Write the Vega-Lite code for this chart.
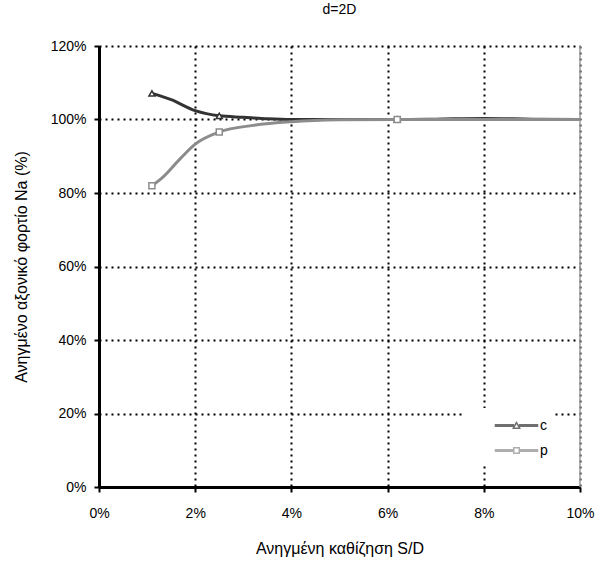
{
  "$schema": "https://vega.github.io/schema/vega-lite/v6.json",
  "width": 481,
  "height": 441,
  "autosize": "none",
  "padding": {"left": 99, "top": 46, "right": 19, "bottom": 75},
  "background": "white",
  "title": {"text": "d=2D", "font": "Liberation Sans", "fontSize": 14, "fontWeight": "normal", "color": "#000", "offset": 22, "anchor": "middle"},
  "config": {
    "view": {"stroke": null},
    "font": "Liberation Sans"
  },
  "datasets": {
    "curves": [
      {"x": 1.1, "y": 107.1, "series": "c", "marker": true},
      {"x": 1.5, "y": 105.4, "series": "c", "marker": false},
      {"x": 2.0, "y": 102.4, "series": "c", "marker": false},
      {"x": 2.5, "y": 101.0, "series": "c", "marker": true},
      {"x": 3.0, "y": 100.6, "series": "c", "marker": false},
      {"x": 3.5, "y": 100.2, "series": "c", "marker": false},
      {"x": 4.0, "y": 100.0, "series": "c", "marker": false},
      {"x": 5.0, "y": 100.0, "series": "c", "marker": false},
      {"x": 6.2, "y": 100.0, "series": "c", "marker": true},
      {"x": 7.0, "y": 100.1, "series": "c", "marker": false},
      {"x": 8.0, "y": 100.3, "series": "c", "marker": false},
      {"x": 9.0, "y": 100.1, "series": "c", "marker": false},
      {"x": 10.0, "y": 100.0, "series": "c", "marker": false},
      {"x": 1.1, "y": 82.0, "series": "p", "marker": true},
      {"x": 1.3, "y": 84.0, "series": "p", "marker": false},
      {"x": 1.7, "y": 89.5, "series": "p", "marker": false},
      {"x": 2.0, "y": 93.3, "series": "p", "marker": false},
      {"x": 2.5, "y": 96.6, "series": "p", "marker": true},
      {"x": 3.2, "y": 98.4, "series": "p", "marker": false},
      {"x": 4.0, "y": 99.4, "series": "p", "marker": false},
      {"x": 5.0, "y": 99.9, "series": "p", "marker": false},
      {"x": 6.2, "y": 100.0, "series": "p", "marker": true},
      {"x": 8.0, "y": 100.0, "series": "p", "marker": false},
      {"x": 10.0, "y": 100.0, "series": "p", "marker": false}
    ],
    "border": [{"x": 10}]
  },
  "layer": [
    {
      "data": {"name": "border"},
      "mark": {"type": "rule", "color": "#9a9a9a", "strokeWidth": 1.5},
      "encoding": {
        "x": {"field": "x", "type": "quantitative"}
      }
    },
    {
      "data": {"name": "curves"},
      "mark": {"type": "line", "interpolate": "monotone", "strokeWidth": 3},
      "encoding": {
        "x": {
          "field": "x", "type": "quantitative",
          "scale": {"domain": [0, 10], "nice": false},
          "axis": {
            "title": "Ανηγμένη καθίζηση S/D",
            "values": [0, 2, 4, 6, 8, 10],
            "labelExpr": "datum.value + '%'",
            "labelFlush": false,
            "labelFont": "Liberation Sans", "labelFontSize": 14, "labelColor": "#000",
            "labelPadding": 14,
            "domainColor": "#000", "domainWidth": 3,
            "tickColor": "#000", "tickWidth": 2, "tickSize": 5,
            "grid": true, "gridColor": "#000", "gridWidth": 2, "gridDash": [2, 4],
            "titleFont": "Liberation Sans", "titleFontSize": 16, "titleFontWeight": "normal", "titleColor": "#000",
            "titlePadding": 20
          }
        },
        "y": {
          "field": "y", "type": "quantitative",
          "scale": {"domain": [0, 120], "nice": false},
          "axis": {
            "title": "Ανηγμένο αξονικό φορτίο Na (%)",
            "values": [0, 20, 40, 60, 80, 100, 120],
            "labelExpr": "datum.value + '%'",
            "labelFont": "Liberation Sans", "labelFontSize": 14, "labelColor": "#000",
            "labelPadding": 8,
            "domainColor": "#000", "domainWidth": 3,
            "tickColor": "#000", "tickWidth": 2, "tickSize": 5,
            "grid": true, "gridColor": "#000", "gridWidth": 2, "gridDash": [2, 4],
            "titleFont": "Liberation Sans", "titleFontSize": 16, "titleFontWeight": "normal", "titleColor": "#000",
            "titlePadding": 21
          }
        },
        "stroke": {
          "field": "series", "type": "nominal",
          "scale": {"domain": ["c", "p"], "range": ["#333333", "#8c8c8c"]},
          "legend": {
            "title": null,
            "orient": "none",
            "legendX": 364,
            "legendY": 362,
            "padding": 6,
            "fillColor": "white",
            "strokeColor": null,
            "symbolSize": 441,
            "symbolOffset": 36,
            "symbolStrokeWidth": 1.5,
            "symbolFillColor": "white",
            "labelFont": "Liberation Sans", "labelFontSize": 14, "labelColor": "#000",
            "labelOffset": 12,
            "rowPadding": 6
          }
        }
      }
    },
    {
      "data": {"name": "curves"},
      "transform": [{"filter": "datum.x > 1000"}],
      "mark": {"type": "point", "filled": false, "strokeWidth": 1.5},
      "encoding": {
        "shape": {
          "field": "series", "type": "nominal",
          "scale": {"domain": ["c", "p"], "range": [
            "M-2,-0.07H-0.3V0.07H-2Z M0.3,-0.07H2V0.07H0.3Z M-0.3,0.26L0,-0.28L0.3,0.26Z",
            "M-2,-0.07H-0.26V0.07H-2Z M0.26,-0.07H2V0.07H0.26Z M-0.26,-0.26H0.26V0.26H-0.26Z"
          ]}
        },
        "stroke": {"field": "series", "type": "nominal"}
      }
    },
    {
      "data": {"name": "curves"},
      "transform": [{"filter": "datum.marker && datum.series === 'c'"}],
      "mark": {"type": "point", "shape": "triangle-up", "filled": false, "fill": "white", "size": 36, "strokeWidth": 1.5, "opacity": 1},
      "encoding": {
        "x": {"field": "x", "type": "quantitative"},
        "y": {"field": "y", "type": "quantitative"},
        "stroke": {"field": "series", "type": "nominal"}
      }
    },
    {
      "data": {"name": "curves"},
      "transform": [{"filter": "datum.marker && datum.series === 'p'"}],
      "mark": {"type": "point", "shape": "square", "filled": false, "fill": "white", "size": 36, "strokeWidth": 1.5, "opacity": 1},
      "encoding": {
        "x": {"field": "x", "type": "quantitative"},
        "y": {"field": "y", "type": "quantitative"},
        "stroke": {"field": "series", "type": "nominal"}
      }
    }
  ]
}
